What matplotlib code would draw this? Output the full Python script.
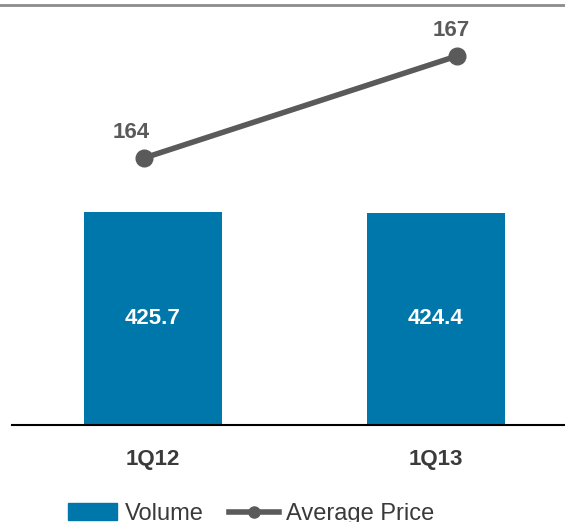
import matplotlib.pyplot as plt
from matplotlib.lines import Line2D
from matplotlib.patches import Patch

plt.rcParams['font.family'] = ['Liberation Sans', 'DejaVu Sans']

# data
quarters = ['1Q12', '1Q13']
volume = [425.7, 424.4]
avg_price = [164, 167]

bar_color = '#0077aa'
line_color = '#5a5a5a'

W, H = 565, 522
fig = plt.figure(figsize=(W / 100, H / 100), dpi=100)

# axes: baseline at y=425 px from top, top at y=5
ax = fig.add_axes([12 / W, (H - 425) / H, (W - 12) / W, 420 / H])
x = list(range(len(quarters)))
bars = ax.bar(x, volume, width=0.488, color=bar_color)
ax.set_xlim(-141 / 283, 412 / 283)
ax.set_ylim(0, 840)
for b, v in zip(bars, volume):
    ax.text(b.get_x() + b.get_width() / 2, v / 2, f'{v:.1f}', ha='center', va='center',
            color='white', fontsize=16, fontweight='bold')

for s in ['top', 'right', 'left']:
    ax.spines[s].set_visible(False)
ax.spines['bottom'].set_color('black')
ax.spines['bottom'].set_linewidth(1.5)
ax.set_yticks([])
ax.set_xticks(x)
ax.set_xticklabels(quarters, fontsize=16, fontweight='bold', color='#3a3a3a')
ax.tick_params(axis='x', length=0, pad=17)

# line on its own axes (points not centred on bars)
ax2 = fig.add_axes(ax.get_position(), frameon=False)
ax2.plot(x, avg_price, color=line_color, linewidth=4, marker='o', markersize=12)
ax2.set_xlim(-(144 - 12) / 313, (565 - 144) / 313)
ax2.set_ylim(164 - 267 / 34, 164 - 267 / 34 + 420 / 34)
ax2.set_xticks([])
ax2.set_yticks([])
offsets = [(-9, 18), (-4, 18)]
for xi, p, off in zip(x, avg_price, offsets):
    ax2.annotate(str(p), (xi, p), xytext=off, textcoords='offset points',
                 ha='center', va='center', fontsize=16, fontweight='bold', color=line_color)

# top gray rule
fig.add_artist(Line2D([0, 1], [1 - 5 / H, 1 - 5 / H], color='#8c8c8c', linewidth=2))

# legend sits at the very bottom edge, partly clipped as in the reference
handles = [Patch(color=bar_color),
           Line2D([], [], color=line_color, linewidth=4, marker='o', markersize=8)]
fig.legend(handles, ['Volume', 'Average Price'], loc='center', bbox_to_anchor=(251 / W, 8 / H),
           ncol=2, frameon=False, fontsize=17, handlelength=2.1, handletextpad=0.3,
           columnspacing=1.1, labelcolor='#3a3a3a')

fig.savefig('out.png', dpi=100)
